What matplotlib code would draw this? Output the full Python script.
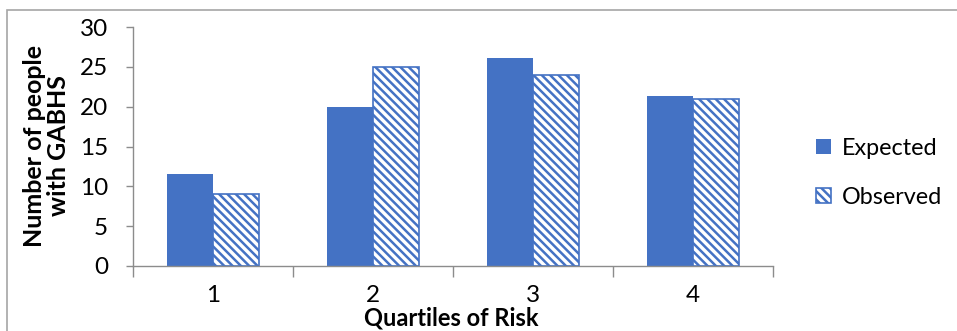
import matplotlib.pyplot as plt
import numpy as np
from matplotlib.patches import Rectangle

quartiles = ["1", "2", "3", "4"]
expected = [11.6, 20.0, 26.1, 21.3]
observed = [9, 25, 24, 21]

blue = "#4472C4"
axis_grey = "#8C8C8C"

plt.rcParams["font.family"] = ["Lato", "DejaVu Sans"]
plt.rcParams["hatch.linewidth"] = 1.8
plt.rcParams["hatch.color"] = blue

fig = plt.figure(figsize=(9.57, 3.31), dpi=100)
ax = fig.add_axes([0.139, 0.1964, 0.6688, 0.722])

x = np.arange(len(quartiles))
width = 0.29
ax.bar(x - width / 2, expected, width, color=blue, label="Expected")
ax.bar(x + width / 2, observed, width, facecolor="white", edgecolor=blue,
       hatch="\\\\\\\\", linewidth=1.2, label="Observed")

ax.set_xlim(-0.5, 3.5)
ax.set_ylim(0, 30)
ax.set_yticks(range(0, 31, 5))
ax.set_xticks(x)
ax.set_xticklabels(quartiles)

for side in ("top", "right"):
    ax.spines[side].set_visible(False)
for side in ("left", "bottom"):
    ax.spines[side].set_color(axis_grey)
    ax.spines[side].set_linewidth(1.0)

# category ticks sit between the groups
ax.set_xticks(np.arange(-0.5, 4.0, 1.0), minor=True)
ax.tick_params(axis="x", which="major", length=0, pad=14, labelsize=17.5)
ax.tick_params(axis="x", which="minor", length=8, color=axis_grey, width=1)
ax.tick_params(axis="y", length=5, color=axis_grey, width=1, pad=13, labelsize=17.5)

fig.text(0.472, 0.04, "Quartiles of Risk", ha="center", va="center",
         fontsize=17, fontweight="bold")
fig.text(0.049, 0.56, "Number of people\nwith GABHS", ha="center", va="center",
         rotation=90, fontsize=18, fontweight="bold", linespacing=1.05)

ax.legend(loc="center left", bbox_to_anchor=(1.035, 0.39), frameon=False,
          fontsize=16.8, handlelength=0.62, handleheight=0.62, handletextpad=0.45,
          labelspacing=1.2)

# thin frame around the chart area
fig.patches.append(Rectangle((7 / 957, -0.1), 1.2, 1 - 9.5 / 331 + 0.1,
                             transform=fig.transFigure, fill=False,
                             edgecolor="#A6A6A6", linewidth=1.2))

fig.savefig("out.png", dpi=100)
